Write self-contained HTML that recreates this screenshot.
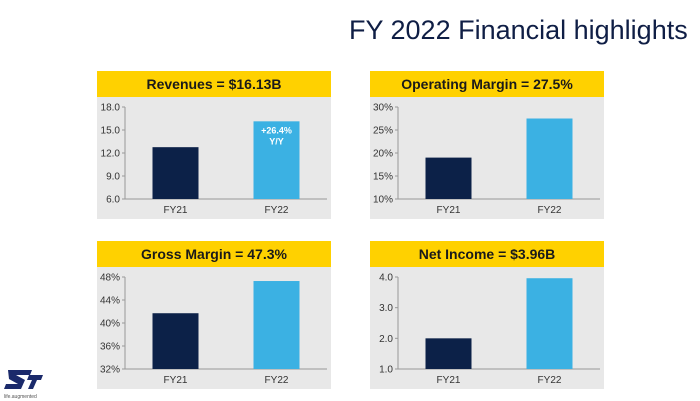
<!DOCTYPE html>
<html><head><meta charset="utf-8"><style>
body{margin:0;width:700px;height:401px;background:#fff;overflow:hidden;font-family:"Liberation Sans",sans-serif;position:relative}
#title{position:absolute;left:349px;top:15px;font-size:27px;color:#0f1e45;white-space:nowrap}
svg{position:absolute;left:0;top:0}
</style></head><body>
<div id="title">FY 2022 Financial highlights</div>
<svg id="s" width="700" height="401">
<g>
<polygon points="8,370 32,370 30,375 16,375 25,380 21,389 4,389 6,384 18,384 9,379" fill="#1b2a6b"/>
<polygon points="29,375 43,375 41,380 37,380 33,389 28,389 32,380 27,380" fill="#1b2a6b"/>
<text x="4" y="398" font-size="5" fill="#555">life.augmented</text>
</g>
</svg>
<script>
const categories=["FY21","FY22"];
const revenueValues=[12.76,16.13];
const opMarginValues=[19.0,27.5];
const grossMarginValues=[41.7,47.3];
const netIncomeValues=[2.0,3.96];
const revenueTicks=["6.0","9.0","12.0","15.0","18.0"];
const opMarginTicks=["10%","15%","20%","25%","30%"];
const grossMarginTicks=["32%","36%","40%","44%","48%"];
const netIncomeTicks=["1.0","2.0","3.0","4.0"];
const panels=[
 {x:97,y:71,title:"Revenues = $16.13B",vals:revenueValues,ticks:revenueTicks,min:6,max:18,name:"revenues",note:["+26.4%","Y/Y"]},
 {x:370,y:71,title:"Operating Margin = 27.5%",vals:opMarginValues,ticks:opMarginTicks,min:10,max:30,name:"operating-margin"},
 {x:97,y:241,title:"Gross Margin = 47.3%",vals:grossMarginValues,ticks:grossMarginTicks,min:32,max:48,name:"gross-margin"},
 {x:370,y:241,title:"Net Income = $3.96B",vals:netIncomeValues,ticks:netIncomeTicks,min:1,max:4,name:"net-income"}
];
const NS="http://www.w3.org/2000/svg",svg=document.getElementById('s');
function mk(t,a,p,txt){const e=document.createElementNS(NS,t);for(const k in a)e.setAttribute(k,a[k]);if(txt!=null)e.textContent=txt;(p||svg).appendChild(e);return e;}
const colors=["#0c2148","#3bb1e3"];
panels.forEach(p=>{
 const g=mk('g',{});
 
 
 const bg=mk('rect',{x:p.x,y:p.y+26,width:234,height:122,fill:'#e8e8e8'},g);
 
 
 const hd=mk('rect',{x:p.x,y:p.y,width:234,height:26,fill:'#ffd100'},g);
 
 
 const ht=mk('text',{x:p.x+117,y:p.y+18,'text-anchor':'middle','font-size':14,'font-weight':'bold',fill:'#1a1a1a'},g,p.title);
 
 
 const ax=p.x+28,top=p.y+36,bot=p.y+128;
 const yS=v=>bot-(v-p.min)/(p.max-p.min)*(bot-top);
 mk('line',{x1:ax,y1:top,x2:ax,y2:bot,stroke:'#999','stroke-width':1},g);
 mk('line',{x1:ax,y1:bot,x2:p.x+230,y2:bot,stroke:'#999','stroke-width':1},g);
 p.ticks.forEach((t,i)=>{
  const v=p.min+i*(p.max-p.min)/(p.ticks.length-1);
  mk('line',{x1:ax-3,y1:yS(v),x2:ax,y2:yS(v),stroke:'#999'},g);
  const tl=mk('text',{x:ax-5,y:yS(v)+3.5,'text-anchor':'end','font-size':10,fill:'#333'},g,t);
  
  
 });
 const slot=(p.x+230-ax)/categories.length;
 categories.forEach((c,i)=>{
  const cx=ax+slot*(i+0.5),v=p.vals[i];
  const b=mk('rect',{x:cx-23,y:yS(v),width:46,height:bot-yS(v),fill:colors[i]},g);
  
  
  const xl=mk('text',{x:cx,y:bot+14,'text-anchor':'middle','font-size':10,fill:'#333'},g,c);
  
  
  if(p.note&&i==1){p.note.forEach((n,j)=>{const nt=mk('text',{x:cx,y:yS(v)+12+j*11,'text-anchor':'middle','font-size':9,'font-weight':'bold',fill:'#fff'},g,n);
   
   });}
 });
});
</script>
</body></html>
